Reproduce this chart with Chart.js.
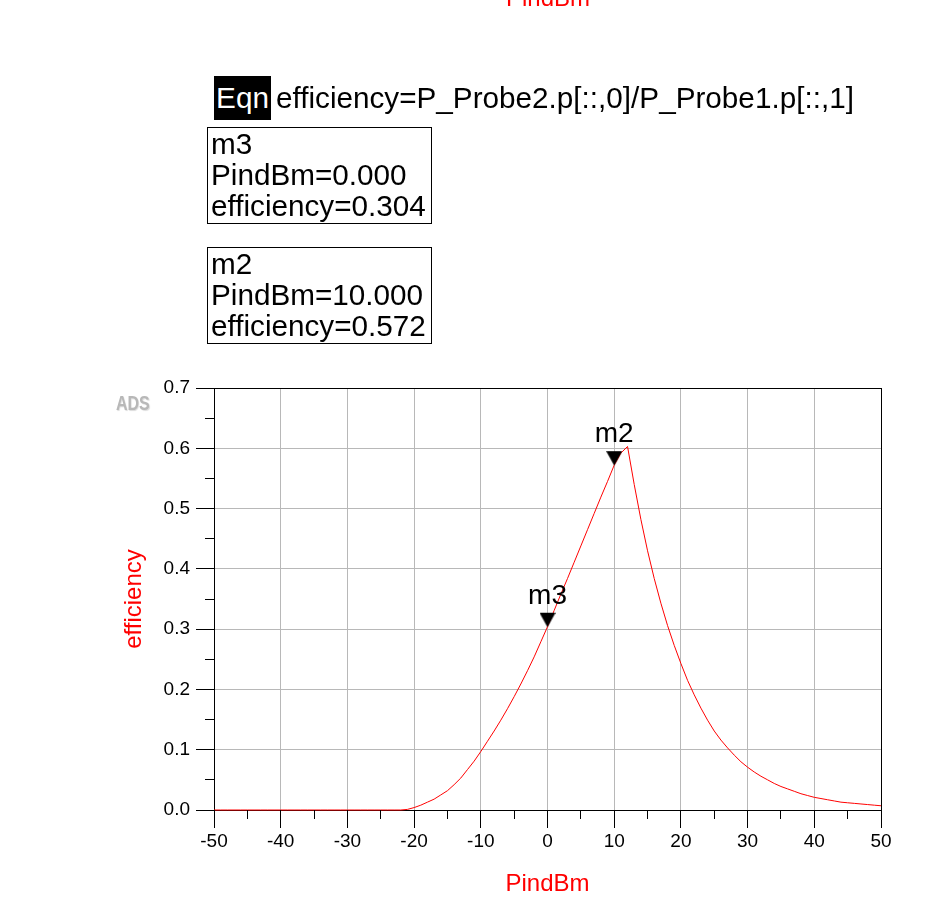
<!DOCTYPE html>
<html>
<head>
<meta charset="utf-8">
<script src="https://cdn.jsdelivr.net/npm/chart.js@4.4.1/dist/chart.umd.min.js"></script>
<style>
  body { margin: 0; background: #fff; font-family: "Liberation Sans", Arial, sans-serif; }
  #wrap { position: relative; width: 950px; height: 911px; overflow: hidden; }
  #chart { position: absolute; left: 0; top: 0; }
  .txt { position: absolute; white-space: nowrap; color: #000; font-size: 29.7px; line-height: 31px; }
  .eqn { position: absolute; left: 214px; top: 76px; width: 57px; height: 44px; background: #000; color: #fff;
         font-size: 29.7px; line-height: 44px; text-align: center; }
  .box { position: absolute; left: 207px; width: 220px; height: 95px; border: 1px solid #000; padding-left: 3px;
         font-size: 29.7px; line-height: 31px; white-space: nowrap; }
  .topTitle { position: absolute; left: 448px; top: -14px; width: 200px; text-align: center; color: #f00;
              font-size: 24px; line-height: 24px; }
  .ads { position: absolute; left: 116px; top: 392px; color: #b8b8b8; font-size: 20px; font-weight: bold;
         transform: scaleX(0.8); transform-origin: left top; text-shadow: 1px 1px 1px #ddd; }
</style>
</head>
<body>
<div id="wrap">
  <canvas id="chart" width="950" height="911"></canvas>
  <div class="topTitle">PindBm</div>
  <div class="eqn">Eqn</div>
  <div class="txt" style="left:276px; top:82px;">efficiency=P_Probe2.p[::,0]/P_Probe1.p[::,1]</div>
  <div class="box" style="top:127px;">m3<br>PindBm=0.000<br>efficiency=0.304</div>
  <div class="box" style="top:247px;">m2<br>PindBm=10.000<br>efficiency=0.572</div>
  <div class="ads">ADS</div>
</div>
<script>
const pinDbm = [
  -50, -49, -48, -47, -46, -45, -44, -43, -42, -41,
  -40, -39, -38, -37, -36, -35, -34, -33, -32, -31,
  -30, -29, -28, -27, -26, -25, -24, -23, -22, -21,
  -20, -19, -18, -17, -16, -15, -14, -13, -12, -11,
  -10, -9, -8, -7, -6, -5, -4, -3, -2, -1,
  0, 1, 2, 3, 4, 5, 6, 7, 8, 9,
  10, 11, 12, 13, 14, 15, 16, 17, 18, 19,
  20, 21, 22, 23, 24, 25, 26, 27, 28, 29,
  30, 31, 32, 33, 34, 35, 36, 37, 38, 39,
  40, 41, 42, 43, 44, 45, 46, 47, 48, 49,
  50
];
const efficiency = [
  0, 0, 0, 0, 0, 0, 0, 0, 0, 0,
  0, 0, 0, 0, 0, 0, 0, 0, 0, 0,
  0, 0, 0, 0, 0, 0, 0, 0, 0, 0.001,
  0.004, 0.008, 0.013, 0.018, 0.025, 0.032, 0.042, 0.053, 0.067, 0.081,
  0.097, 0.114, 0.131, 0.149, 0.168, 0.188, 0.209, 0.231, 0.254, 0.279,
  0.304, 0.331, 0.358, 0.384, 0.411, 0.438, 0.465, 0.492, 0.519, 0.545,
  0.572, 0.592, 0.603, 0.540, 0.482, 0.430, 0.384, 0.343, 0.306, 0.273,
  0.243, 0.215, 0.191, 0.169, 0.149, 0.131, 0.116, 0.103, 0.091, 0.080,
  0.071, 0.063, 0.056, 0.050, 0.044, 0.039, 0.035, 0.031, 0.027, 0.024,
  0.021, 0.019, 0.017, 0.015, 0.013, 0.012, 0.011, 0.010, 0.009, 0.008,
  0.007
];
const markerNames = ["m3", "m2"];
const markerX = [0, 10];
const markerY = [0.304, 0.572];

const FONT = '"Liberation Sans", Arial, sans-serif';

// downward triangle whose tip sits at the image centre
const tri = document.createElement("canvas");
tri.width = 16; tri.height = 30;
const tc = tri.getContext("2d");
tc.fillStyle = "#000";
tc.beginPath();
tc.moveTo(0, 1); tc.lineTo(16, 1); tc.lineTo(8, 15.5);
tc.closePath();
tc.fill();

function align(px) {
  return Math.round(px - 0.5) + 0.5;
}

const ticksAndLabels = {
  id: "ticksAndLabels",
  afterDraw(chart) {
    const { ctx, chartArea: a } = chart;
    const x = chart.scales.x, y = chart.scales.y;
    ctx.save();
    ctx.strokeStyle = "#000";
    ctx.lineWidth = 1;
    ctx.beginPath();
    x.ticks.forEach(t => {
      const px = align(x.getPixelForValue(t.value));
      const len = Math.round(t.value) % 10 === 0 ? 18 : 9;
      ctx.moveTo(px, a.bottom);
      ctx.lineTo(px, a.bottom + len);
    });
    y.ticks.forEach(t => {
      const py = align(y.getPixelForValue(t.value));
      const len = Math.round(t.value * 100) % 10 === 0 ? 18 : 9;
      ctx.moveTo(a.left, py);
      ctx.lineTo(a.left - len, py);
    });
    ctx.stroke();

    const meta = chart.getDatasetMeta(0);
    ctx.fillStyle = "#000";
    ctx.font = "28px " + FONT;
    ctx.textAlign = "center";
    ctx.textBaseline = "alphabetic";
    meta.data.forEach((pt, i) => {
      ctx.fillText(markerNames[i], pt.x, pt.y - 23);
    });
    ctx.restore();
  }
};

new Chart(document.getElementById("chart"), {
  type: "line",
  data: {
    datasets: [
      {
        data: markerX.map((v, i) => ({ x: v, y: markerY[i] })),
        showLine: false,
        pointStyle: tri,
        pointRadius: 8,
        borderColor: "#000",
        backgroundColor: "#000"
      },
      {
        data: pinDbm.map((v, i) => ({ x: v, y: efficiency[i] })),
        borderColor: "#ff0000",
        borderWidth: 1,
        pointRadius: 0,
        tension: 0,
        fill: false,
        clip: 4
      }
    ]
  },
  options: {
    responsive: false,
    animation: false,
    layout: { padding: { left: 0, top: 388, right: 69, bottom: 0 } },
    plugins: { legend: { display: false }, tooltip: { enabled: false } },
    scales: {
      x: {
        type: "linear",
        min: -50,
        max: 50,
        afterFit: s => { s.height = 101; },
        ticks: {
          stepSize: 5,
          autoSkip: false,
          maxRotation: 0,
          padding: 20,
          color: "#000",
          font: { size: 19, family: FONT },
          callback: v => (Math.round(v) % 10 === 0 ? String(v) : "")
        },
        grid: {
          drawTicks: false,
          lineWidth: 1,
          color: c => {
            const v = c.tick ? Math.round(c.tick.value) : 0;
            if (v === 50) return "#000";
            return v % 10 === 0 ? "#b8b8b8" : "rgba(0,0,0,0)";
          }
        },
        border: { color: "#000", width: 1 },
        title: {
          display: true,
          text: "PindBm",
          color: "#ff0000",
          font: { size: 24, family: FONT },
          padding: { top: 0, bottom: 12 }
        }
      },
      y: {
        type: "linear",
        min: 0,
        max: 0.7,
        afterFit: s => { s.width = 214; },
        ticks: {
          stepSize: 0.05,
          autoSkip: false,
          padding: 24,
          color: "#000",
          font: { size: 19, family: FONT },
          callback: v => (Math.round(v * 100) % 10 === 0 ? v.toFixed(1) : "")
        },
        grid: {
          drawTicks: false,
          lineWidth: 1,
          color: c => {
            const v = c.tick ? Math.round(c.tick.value * 100) : 0;
            if (v === 70) return "#000";
            return v % 10 === 0 ? "#b8b8b8" : "rgba(0,0,0,0)";
          }
        },
        border: { color: "#000", width: 1 },
        title: {
          display: true,
          text: "efficiency",
          color: "#ff0000",
          font: { size: 24, family: FONT },
          padding: { top: 120, bottom: 0 }
        }
      }
    }
  },
  plugins: [ticksAndLabels]
});
</script>
</body>
</html>
